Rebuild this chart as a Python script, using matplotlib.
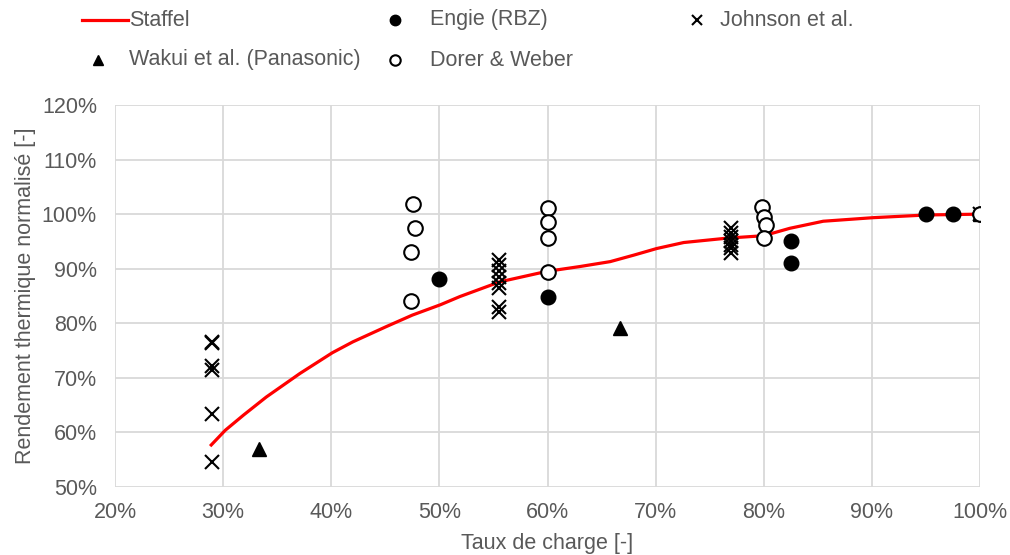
import matplotlib
matplotlib.use("Agg")
import matplotlib.pyplot as plt
from matplotlib.lines import Line2D
from matplotlib.ticker import FuncFormatter, MultipleLocator

plt.rcParams['font.family'] = ['Liberation Sans', 'DejaVu Sans']

# Staffel curve
staffel_x = [0.289, 0.302, 0.319, 0.340, 0.371, 0.401, 0.420, 0.451, 0.475, 0.501, 0.519,
             0.556, 0.599, 0.630, 0.658, 0.680, 0.701, 0.726, 0.766, 0.800, 0.824, 0.855,
             0.901, 0.951, 1.000]
staffel_y = [0.577, 0.604, 0.632, 0.665, 0.708, 0.746, 0.766, 0.794, 0.815, 0.834, 0.849,
             0.876, 0.895, 0.904, 0.913, 0.925, 0.937, 0.948, 0.956, 0.9605, 0.974, 0.987,
             0.9935, 0.9985, 1.000]

# Engie (RBZ)
engie_x = [0.50, 0.60, 0.825, 0.825, 0.95, 0.975, 1.00]
engie_y = [0.882, 0.849, 0.950, 0.911, 1.000, 1.000, 1.000]

# Johnson et al.
johnson_x = [0.29, 0.29, 0.29, 0.29, 0.29, 0.29,
             0.555, 0.555, 0.555, 0.555, 0.555, 0.555, 0.555, 0.555,
             0.77, 0.77, 0.77, 0.77, 0.77, 0.77, 0.77, 1.00]
johnson_y = [0.766, 0.763, 0.722, 0.714, 0.634, 0.546,
             0.916, 0.906, 0.895, 0.885, 0.874, 0.864, 0.830, 0.821,
             0.974, 0.966, 0.958, 0.951, 0.944, 0.938, 0.929, 1.000]

# Wakui et al. (Panasonic)
wakui_x = [0.333, 0.667, 1.00]
wakui_y = [0.570, 0.791, 1.000]

# Dorer & Weber
dorer_x = [0.476, 0.477, 0.474, 0.474, 0.60, 0.60, 0.60, 0.60, 0.798, 0.80, 0.802, 0.80, 1.00]
dorer_y = [1.019, 0.975, 0.931, 0.841, 1.012, 0.985, 0.957, 0.894, 1.014, 0.995, 0.980, 0.957, 1.000]

W, H = 1010, 555
fig = plt.figure(figsize=(W/100, H/100), dpi=100)
ax = fig.add_axes([115/W, 1-487/H, 865/W, 382/H])

gray = '#595959'
ax.plot(staffel_x, staffel_y, color='#ff0000', lw=2.3, zorder=2, solid_joinstyle='round')
ax.plot(johnson_x, johnson_y, ls='none', marker='x', ms=10, mew=1.5, color='black', zorder=3)
ax.plot(wakui_x, wakui_y, ls='none', marker='^', ms=10, color='black', zorder=3)
ax.plot(engie_x, engie_y, ls='none', marker='o', ms=10.5, color='black', zorder=4)
ax.plot(dorer_x, dorer_y, ls='none', marker='o', ms=10.5, mfc='white', mec='black', mew=1.5, zorder=5)

ax.set_xlim(0.2, 1.0)
ax.set_ylim(0.5, 1.2)
ax.xaxis.set_major_locator(MultipleLocator(0.1))
ax.yaxis.set_major_locator(MultipleLocator(0.1))
fmt = FuncFormatter(lambda v, p: f"{round(v*100):d}%")
ax.xaxis.set_major_formatter(fmt)
ax.yaxis.set_major_formatter(fmt)
ax.grid(True, color='#d9d9d9', lw=1.3, zorder=0)
ax.set_axisbelow(True)
for s in ax.spines.values():
    s.set_visible(False)
ax.tick_params(length=0, labelsize=15.5, labelcolor=gray)
ax.tick_params(axis='x', pad=11)
ax.tick_params(axis='y', pad=13)
ax.set_xlabel('Taux de charge [-]', fontsize=15.5, color=gray, labelpad=7)
ax.set_ylabel('Rendement thermique normalisé [-]', fontsize=15.5, color=gray, labelpad=4)

# Legend (manual)
def fx(px): return px / W
def fy(py): return 1 - py / H
fs = 15.5
fig.add_artist(Line2D([fx(82), fx(128)], [fy(20), fy(20)], color='#ff0000', lw=2.3))
fig.text(fx(129), fy(20), 'Staffel', fontsize=fs, color=gray, va='center')
fig.add_artist(Line2D([fx(395)], [fy(20)], marker='o', ms=7.5, color='black', ls='none'))
fig.text(fx(430), fy(20), 'Engie (RBZ)', fontsize=fs, color=gray, va='center')
fig.add_artist(Line2D([fx(697)], [fy(20)], marker='x', ms=7.5, mew=1.5, color='black', ls='none'))
fig.text(fx(720), fy(20), 'Johnson et al.', fontsize=fs, color=gray, va='center')
fig.add_artist(Line2D([fx(98)], [fy(60)], marker='^', ms=7.5, color='black', ls='none'))
fig.text(fx(129), fy(60), 'Wakui et al. (Panasonic)', fontsize=fs, color=gray, va='center')
fig.add_artist(Line2D([fx(395)], [fy(60)], marker='o', ms=7.5, mfc='white', mec='black', mew=1.5, ls='none'))
fig.text(fx(430), fy(60), 'Dorer & Weber', fontsize=fs, color=gray, va='center')

fig.savefig('out.png', dpi=100)
